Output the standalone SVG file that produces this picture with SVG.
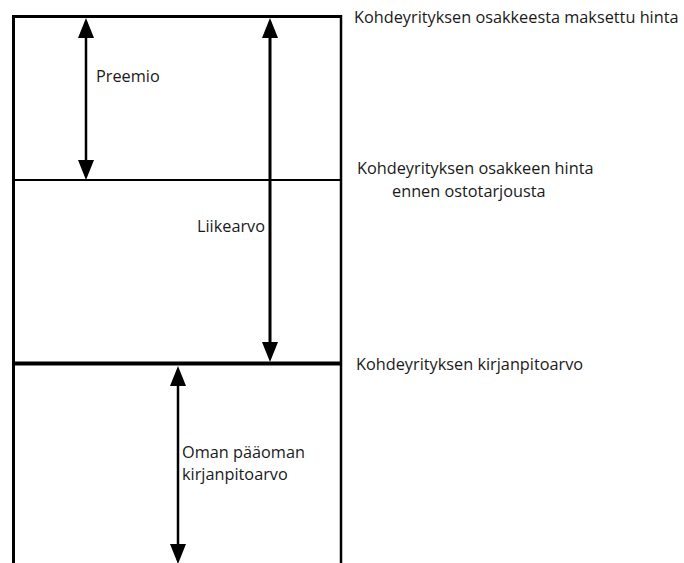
<svg xmlns="http://www.w3.org/2000/svg" width="684" height="563" viewBox="0 0 684 563">
<defs>
<style>
.t{font-family:"Open Sans","Liberation Sans",sans-serif;font-size:16.3px;fill:#1a1a1a}
.ln{stroke:#000;fill:none}
</style>
</defs>
<rect width="684" height="563" fill="#fff"/>
<g id="frame">
<line class="ln" x1="13.5" y1="15" x2="13.5" y2="563" stroke-width="3"/>
<line class="ln" x1="341" y1="15" x2="341" y2="563" stroke-width="2.5"/>
<line class="ln" x1="12" y1="16.5" x2="342" y2="16.5" stroke-width="3"/>
<line class="ln" x1="12" y1="180" x2="342" y2="180" stroke-width="2"/>
<line class="ln" x1="12" y1="363.5" x2="342" y2="363.5" stroke-width="4"/>
</g>
<g id="connectors">
<path d="M86,38 L86,160" class="ln" stroke-width="2.5"/>
<path d="M86,18 L78,38 L94,38 Z" fill="#000"/>
<path d="M86,180 L78,160 L94,160 Z" fill="#000"/>
<path d="M270,38 L270,342" class="ln" stroke-width="3"/>
<path d="M270,18 L262,38 L278,38 Z" fill="#000"/>
<path d="M270,362 L262,342 L278,342 Z" fill="#000"/>
<path d="M178,386 L178,545" class="ln" stroke-width="2.5"/>
<path d="M178,366 L170,386 L186,386 Z" fill="#000"/>
<path d="M178,564 L170,544 L186,544 Z" fill="#000"/>
</g>
<g id="label-top"><text class="t" x="354" y="23">Kohdeyrityksen osakkeesta maksettu hinta</text></g>
<g id="label-mid"><text class="t" x="357" y="174">Kohdeyrityksen osakkeen hinta</text><text class="t" x="392" y="197">ennen ostotarjousta</text></g>
<g id="label-book"><text class="t" x="356" y="370">Kohdeyrityksen kirjanpitoarvo</text></g>
<g id="label-preemio"><text class="t" x="96" y="82">Preemio</text></g>
<g id="label-liikearvo"><text class="t" x="197" y="232">Liikearvo</text></g>
<g id="label-oman"><text class="t" x="182" y="458">Oman pääoman</text><text class="t" x="182" y="480">kirjanpitoarvo</text></g>
</svg>
